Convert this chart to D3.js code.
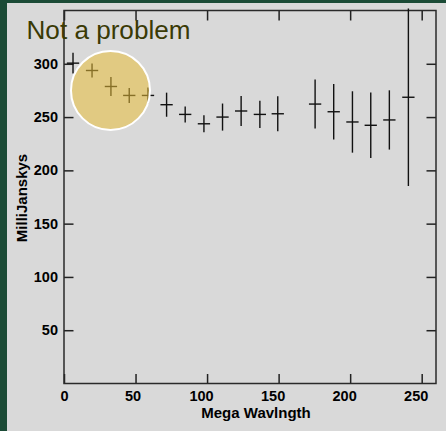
<!DOCTYPE html>
<html>
<head>
<meta charset="utf-8">
<script src="https://cdn.jsdelivr.net/npm/d3@7"></script>
<style>
  html, body { margin: 0; padding: 0; background: #1b4b36; }
  svg { display: block; }
</style>
</head>
<body>
<script>
// ---- data ----
const wavelength = [6.3, 19.6, 32.8, 45.6, 58.7, 71.7, 84.7, 97.8, 110.8, 123.8, 136.9, 149.4, 175.5, 188.5, 201.6, 214.4, 227.4, 240.7];
const flux       = [300.6, 293.7, 278.7, 270.3, 270.3, 261.6, 252.5, 243.7, 250.0, 255.7, 252.5, 253.1, 262.2, 255.0, 245.4, 242.3, 247.3, 268.6];
const fluxErr    = [9.8, 6.6, 8.9, 7.0, 7.5, 11.3, 7.5, 8.0, 12.7, 14.0, 12.7, 16.4, 23.0, 26.0, 28.8, 30.8, 27.8, 83.3];
const wavelengthErr = [4.3, 4.3, 4.3, 4.3, 4.3, 4.3, 4.3, 4.3, 4.3, 4.3, 4.3, 4.3, 4.3, 4.3, 4.3, 4.3, 4.3, 4.3];
const xTicks = [0, 50, 100, 150, 200, 250];
const yTicks = [50, 100, 150, 200, 250, 300];
const xTitle = "Mega Wavlngth";
const yTitle = "MilliJanskys";
const noteText = "Not a problem";
const noteCenter = [32.5, 275];

const W = 446, H = 431;
const svg = d3.select("body").append("svg").attr("width", W).attr("height", H);

// panel
svg.append("rect").attr("x", 7).attr("y", 3).attr("width", W - 7).attr("height", H - 3).attr("fill", "#d9d9d9");

const x = d3.scaleLinear().domain([0, 260]).range([64, 436]);
const y = d3.scaleLinear().domain([0, 350]).range([383.5, 10.5]);

const font = "'Liberation Sans', Arial, Helvetica, sans-serif";

// axes with inward ticks
const gB = svg.append("g").attr("transform", `translate(0,${y(0)})`)
  .call(d3.axisBottom(x).tickValues(xTicks).tickSizeInner(-9.5).tickSizeOuter(0).tickPadding(7));
const gT = svg.append("g").attr("transform", `translate(0,${y(350)})`)
  .call(d3.axisTop(x).tickValues(xTicks).tickSizeInner(-10).tickSizeOuter(0).tickFormat(""));
const gL = svg.append("g").attr("transform", `translate(${x(0)},0)`)
  .call(d3.axisLeft(y).tickValues(yTicks).tickSizeInner(-9.5).tickSizeOuter(0).tickPadding(6));
const gR = svg.append("g").attr("transform", `translate(${x(260)},0)`)
  .call(d3.axisRight(y).tickValues(yTicks).tickSizeInner(-9.5).tickSizeOuter(0).tickFormat(""));

[gB, gT, gL, gR].forEach(g => {
  g.select(".domain").remove();
  g.selectAll(".tick line").attr("stroke", "#222").attr("stroke-width", 1.5);
  g.selectAll(".tick text").attr("fill", "#000").attr("font-family", font)
    .attr("font-weight", "bold").attr("font-size", "14.5px");
});
gB.selectAll(".tick text").attr("dx", d => -(String(d).length - 1) * 3);

// frame
svg.append("rect")
  .attr("x", x(0)).attr("y", y(350))
  .attr("width", x(260) - x(0)).attr("height", y(0) - y(350))
  .attr("fill", "none").attr("stroke", "#2a2a2a").attr("stroke-width", 1.5);

// axis titles
svg.append("text").attr("x", 256).attr("y", 418).attr("text-anchor", "middle")
  .attr("font-family", font).attr("font-weight", "bold").attr("font-size", "15px")
  .attr("fill", "#000").text(xTitle);
svg.append("text").attr("transform", "translate(27,198) rotate(-90)").attr("text-anchor", "middle")
  .attr("font-family", font).attr("font-weight", "bold").attr("font-size", "15px")
  .attr("fill", "#000").text(yTitle);

// error bars
const pts = wavelength.map((w, i) => ({ x: w, y: flux[i], ey: fluxErr[i], ex: wavelengthErr[i] }));
const gp = svg.append("g").attr("stroke", "#111").attr("stroke-width", 1.4);
gp.selectAll("line.v").data(pts).join("line").attr("class", "v")
  .attr("x1", d => x(d.x)).attr("x2", d => x(d.x))
  .attr("y1", d => y(d.y + d.ey)).attr("y2", d => y(d.y - d.ey));
gp.selectAll("line.h").data(pts).join("line").attr("class", "h")
  .attr("x1", d => x(d.x - d.ex)).attr("x2", d => x(d.x + d.ex))
  .attr("y1", d => y(d.y)).attr("y2", d => y(d.y));

// highlight circle
svg.append("circle").attr("cx", x(noteCenter[0])).attr("cy", y(noteCenter[1])).attr("r", 39.5)
  .attr("fill", "rgb(232,190,58)").attr("fill-opacity", 0.55)
  .attr("stroke", "#ffffff").attr("stroke-width", 2);

// note text
svg.append("text").attr("x", 26.5).attr("y", 38.5)
  .attr("font-family", font).attr("font-size", "25px").attr("fill", "#3a3a05")
  .attr("textLength", 164).attr("lengthAdjust", "spacingAndGlyphs")
  .text(noteText);
</script>
</body>
</html>
